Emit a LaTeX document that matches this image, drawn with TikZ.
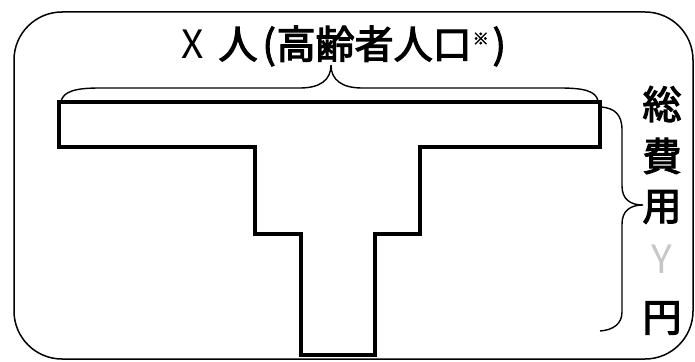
\documentclass[tikz,border=0pt]{standalone}
\usepackage{fontspec}
\setmainfont{Noto Sans CJK JP}
\newfontfamily\medfont{Noto Sans CJK JP}[FakeBold=3]
\begin{document}
\begin{tikzpicture}[x=1pt,y=-1pt,
  frame/.style={line width=1.5pt, rounded corners=48pt},
  tshape/.style={line width=3.4pt, line join=miter},
  bracestyle/.style={line width=1.4pt},
  lbl/.style={inner sep=0pt, font=\fontsize{39}{39}\selectfont\medfont},
  faint/.style={inner sep=0pt, font=\fontsize{39}{39}\selectfont, text=black!22}]
\useasboundingbox (0,0) rectangle (695,361);
\fill[white] (0,0) rectangle (695,361);
\draw[frame] (14,12) rectangle (693,359);
% T-shaped outline
\draw[tshape] (59,102) -- (600,102) -- (600,147) -- (420,147) -- (420,234)
  -- (375,234) -- (375,355) -- (301,355) -- (301,234) -- (255,234)
  -- (255,147) -- (59,147) -- cycle;
% braces
\coordinate (tl) at (61,101);
\coordinate (tt) at (331,65);
\coordinate (tr) at (598,101);
\draw[bracestyle] (tl) .. controls (64,91) and (76,88) .. (100,88) -- (300,88)
  .. controls (320,88) and (331,80) .. (tt)
  .. controls (331,80) and (342,88) .. (362,88) -- (560,88)
  .. controls (584,88) and (596,91) .. (tr);
\coordinate (rt) at (601,107);
\coordinate (rm) at (643,205);
\coordinate (rb) at (600,331);
\draw[bracestyle] (rt) .. controls (614,108) and (622,114) .. (622,130) -- (622,186)
  .. controls (622,199) and (630,205) .. (rm)
  .. controls (630,205) and (622,211) .. (622,224) -- (622,312)
  .. controls (622,324) and (613,330) .. (rb);
% labels
\node[lbl, anchor=west] (top) at (181,46) {{\normalfont\fontsize{39}{39}\selectfont X}\hspace{15pt}人\hspace{5pt}(\hspace{1pt}高齢者人口\hspace{1pt}\raisebox{14pt}{\fontsize{16}{16}\selectfont ※}\hspace{4pt})};
\node[lbl] (c1) at (662,104) {総};
\node[lbl] (c2) at (662,156) {費};
\node[lbl] (c3) at (662,207) {用};
\node[faint] (c4) at (662,259) {Y};
\node[lbl] (c5) at (662,318) {円};
\end{tikzpicture}
\end{document}
